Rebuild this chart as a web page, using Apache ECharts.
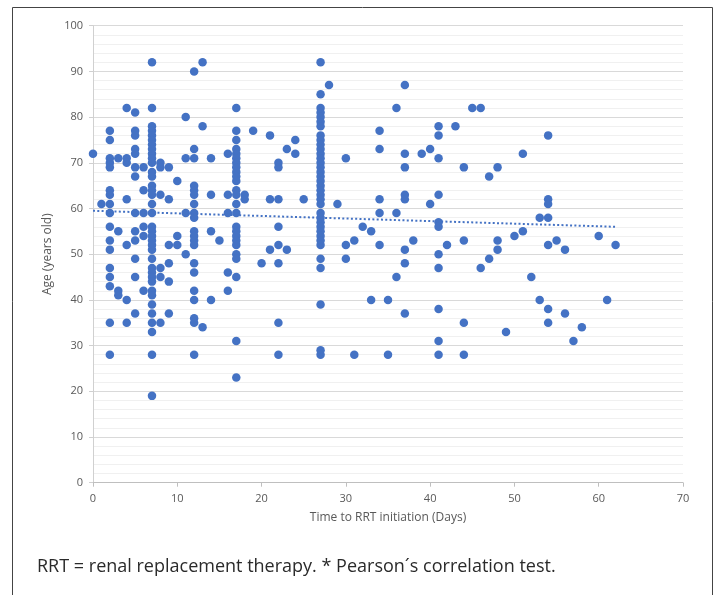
<!DOCTYPE html>
<html>
<head>
<meta charset="utf-8">
<script src="https://cdn.jsdelivr.net/npm/echarts@6/dist/echarts.min.js"></script>
<style>
html,body{margin:0;padding:0;background:#fff;}
#chart{width:719px;height:595px;}
</style>
</head>
<body>
<div id="chart"></div>
<script>
// Days to RRT initiation (x) and the patient ages observed at each day (y)
const days = [0,1,2,3,4,5,6,7,8,9,10,11,12,13,14,15,16,17,18,19,20,21,22,23,24,25,27,28,29,30,31,32,33,34,35,36,37,38,39,40,41,42,43,44,45,46,47,48,49,50,51,52,53,54,55,56,57,58,60,61,62];
const agesByDay = [
  [72],
  [61],
  [77,75,71,70,69,64,63,61,59,56,53,51,47,45,43,35,28],
  [71,55,42,41],
  [82,71,70,62,52,40,35],
  [81,77,76,73,72,69,67,59,55,53,49,45,37],
  [69,64,59,56,54,42],
  [92,82,78,77,76,75,74,73,72,71,70,68,67,65,64,63,61,59,56,55,54,53,52,51,49,47,46,45,44,42,41,39,37,35,33,28,19],
  [70,69,63,47,45,35],
  [69,62,52,48,44,37],
  [66,54,52],
  [80,71,59,50],
  [90,73,71,65,64,63,61,59,58,55,54,53,52,48,46,42,40,36,35,28],
  [92,78,34],
  [71,63,55,40],
  [53],
  [72,63,59,46,42],
  [82,77,75,73,72,71,70,69,68,67,66,64,63,61,59,56,55,54,53,52,50,49,45,31,23],
  [63,62],
  [77],
  [48],
  [76,62,51],
  [70,69,62,56,52,48,35,28],
  [73,51],
  [75,72],
  [62],
  [92,85,82,81,80,79,78,76,75,74,73,72,71,70,69,68,67,66,65,64,63,62,61,59,58,57,56,55,54,53,52,49,47,39,29,28],
  [87],
  [61],
  [71,52,49],
  [53,28],
  [56],
  [55,40],
  [77,73,62,59,52],
  [40,28],
  [82,59,45],
  [87,72,69,63,62,51,48,37],
  [53],
  [72],
  [73,61],
  [78,76,71,63,57,56,50,47,38,31,28],
  [52],
  [78],
  [69,53,35,28],
  [82],
  [82,47],
  [67,49],
  [69,53,51],
  [33],
  [54],
  [72,55],
  [45],
  [58,40],
  [76,62,61,58,52,38,35],
  [53],
  [51,37],
  [31],
  [34],
  [54],
  [40],
  [52]
];
// Linear trend line end points
const trendX = [0, 62];
const trendY = [59.5, 56.0];
// Axis ticks
const xTicks = [0,10,20,30,40,50,60,70];
const yTicks = [0,10,20,30,40,50,60,70,80,90,100];

const points = [];
days.forEach((d, i) => agesByDay[i].forEach(a => points.push([d, a])));
const trend = trendX.map((x, i) => [x, trendY[i]]);

const chart = echarts.init(document.getElementById('chart'), null, {renderer: 'canvas'});
const labelColor = '#595959';
chart.setOption({
  animation: false,
  backgroundColor: '#ffffff',
  grid: {left: 93, right: 36, top: 25.7, bottom: 112.3, containLabel: false},
  xAxis: {
    type: 'value',
    min: xTicks[0], max: xTicks[xTicks.length - 1], interval: 10,
    name: 'Time to RRT initiation (Days)',
    nameLocation: 'middle', nameGap: 29,
    nameTextStyle: {color: labelColor, fontSize: 12, fontFamily: 'Open Sans'},
    axisLine: {show: true, lineStyle: {color: '#bfbfbf', width: 1}},
    axisTick: {show: true, length: 4, lineStyle: {color: '#bfbfbf'}},
    axisLabel: {color: labelColor, fontSize: 11, margin: 11, fontFamily: 'Open Sans'},
    splitLine: {show: false}
  },
  yAxis: {
    type: 'value',
    min: yTicks[0], max: yTicks[yTicks.length - 1], interval: 10,
    name: 'Age (years old)',
    nameLocation: 'middle', nameGap: 37, nameRotate: 90,
    nameTextStyle: {color: labelColor, fontSize: 12, fontFamily: 'Open Sans'},
    axisLine: {show: true, lineStyle: {color: '#d0d0d0', width: 1}},
    axisTick: {show: true, length: 4, lineStyle: {color: '#d0d0d0'}},
    axisLabel: {color: labelColor, fontSize: 11, margin: 10, fontFamily: 'Open Sans'},
    splitLine: {show: true, lineStyle: {color: '#d9d9d9', width: 1}},
    minorTick: {show: false, splitNumber: 5},
    minorSplitLine: {show: true, lineStyle: {color: '#f0f0f0', width: 1}}
  },
  series: [
    {
      type: 'scatter',
      data: points,
      symbol: 'circle',
      symbolSize: 8.5,
      itemStyle: {color: '#4472C4', opacity: 1},
      z: 3
    },
    {
      type: 'line',
      data: trend,
      symbol: 'none',
      lineStyle: {color: '#4472C4', width: 2, type: [2, 2.3]},
      z: 4
    }
  ],
  graphic: [
    {
      type: 'rect', left: 10, top: 5, silent: true,
      shape: {width: 700, height: 610},
      style: {fill: 'none', stroke: '#444', lineWidth: 1}
    },
    {
      type: 'text', left: 37, top: 558,
      style: {text: 'RRT = renal replacement therapy. * Pearson\u00b4s correlation test.', fill: '#2a2a2a', font: '400 18px "Open Sans"'}
    }
  ]
});
</script>
</body>
</html>
